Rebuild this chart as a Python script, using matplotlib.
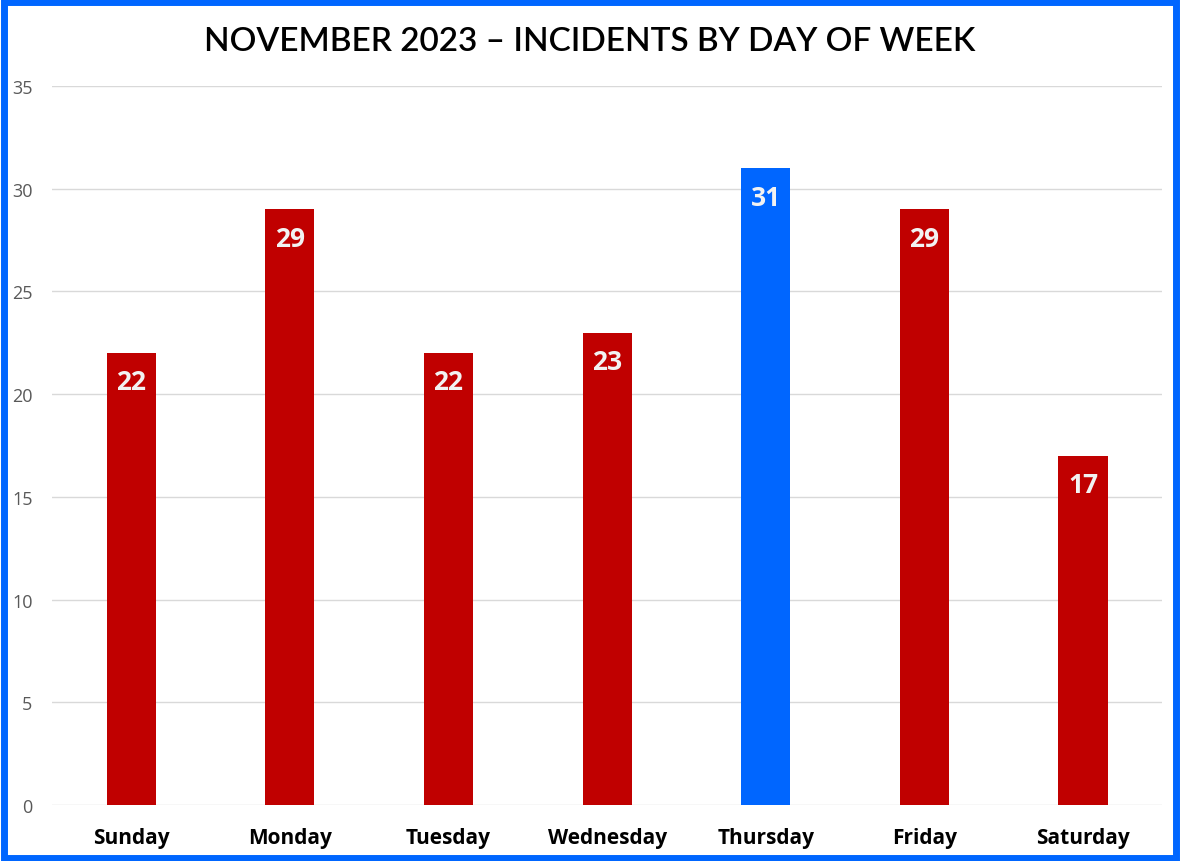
import matplotlib.pyplot as plt
from matplotlib.patches import Rectangle

days = ['Sunday', 'Monday', 'Tuesday', 'Wednesday', 'Thursday', 'Friday', 'Saturday']
incidents = [22, 29, 22, 23, 31, 29, 17]
highlight = 'Thursday'

red = '#C00000'
blue = '#0066FF'

fig = plt.figure(figsize=(11.8, 8.62), dpi=100)
ax = fig.add_axes([0.044, 0.065, 0.941, 0.834])

colors = [blue if d == highlight else red for d in days]
bars = ax.bar(days, incidents, width=0.31, color=colors, zorder=3)

for bar, v in zip(bars, incidents):
    ax.text(bar.get_x() + bar.get_width() / 2, v - 0.75, str(v),
            ha='center', va='top', color='#F2F2F2', fontsize=19,
            fontweight='bold', family='Open Sans', zorder=4)

ax.set_ylim(0, 35)
ax.set_xlim(-0.5, 6.5)
ax.set_yticks(range(0, 36, 5))
ax.grid(axis='y', color='#D9D9D9', linewidth=1, zorder=0)
for s in ax.spines.values():
    s.set_visible(False)
ax.tick_params(axis='y', length=0, labelsize=13, labelcolor='#595959', pad=14)
ax.tick_params(axis='x', length=0, labelsize=15, pad=16)
for lbl in ax.get_yticklabels():
    lbl.set_family('Open Sans')
for lbl in ax.get_xticklabels():
    lbl.set_family('Open Sans')
    lbl.set_fontweight('bold')

fig.text(0.5, 0.951, 'NOVEMBER 2023 – INCIDENTS BY DAY OF WEEK', ha='center', va='center',
         fontsize=24, family='Lato', fontweight='semibold', color='black')

# blue frame round the whole figure
fig.patches.append(Rectangle((0.003, 0.004), 0.994, 0.992, transform=fig.transFigure,
                             fill=False, edgecolor=blue, linewidth=5))

fig.savefig('out.png', dpi=100)
